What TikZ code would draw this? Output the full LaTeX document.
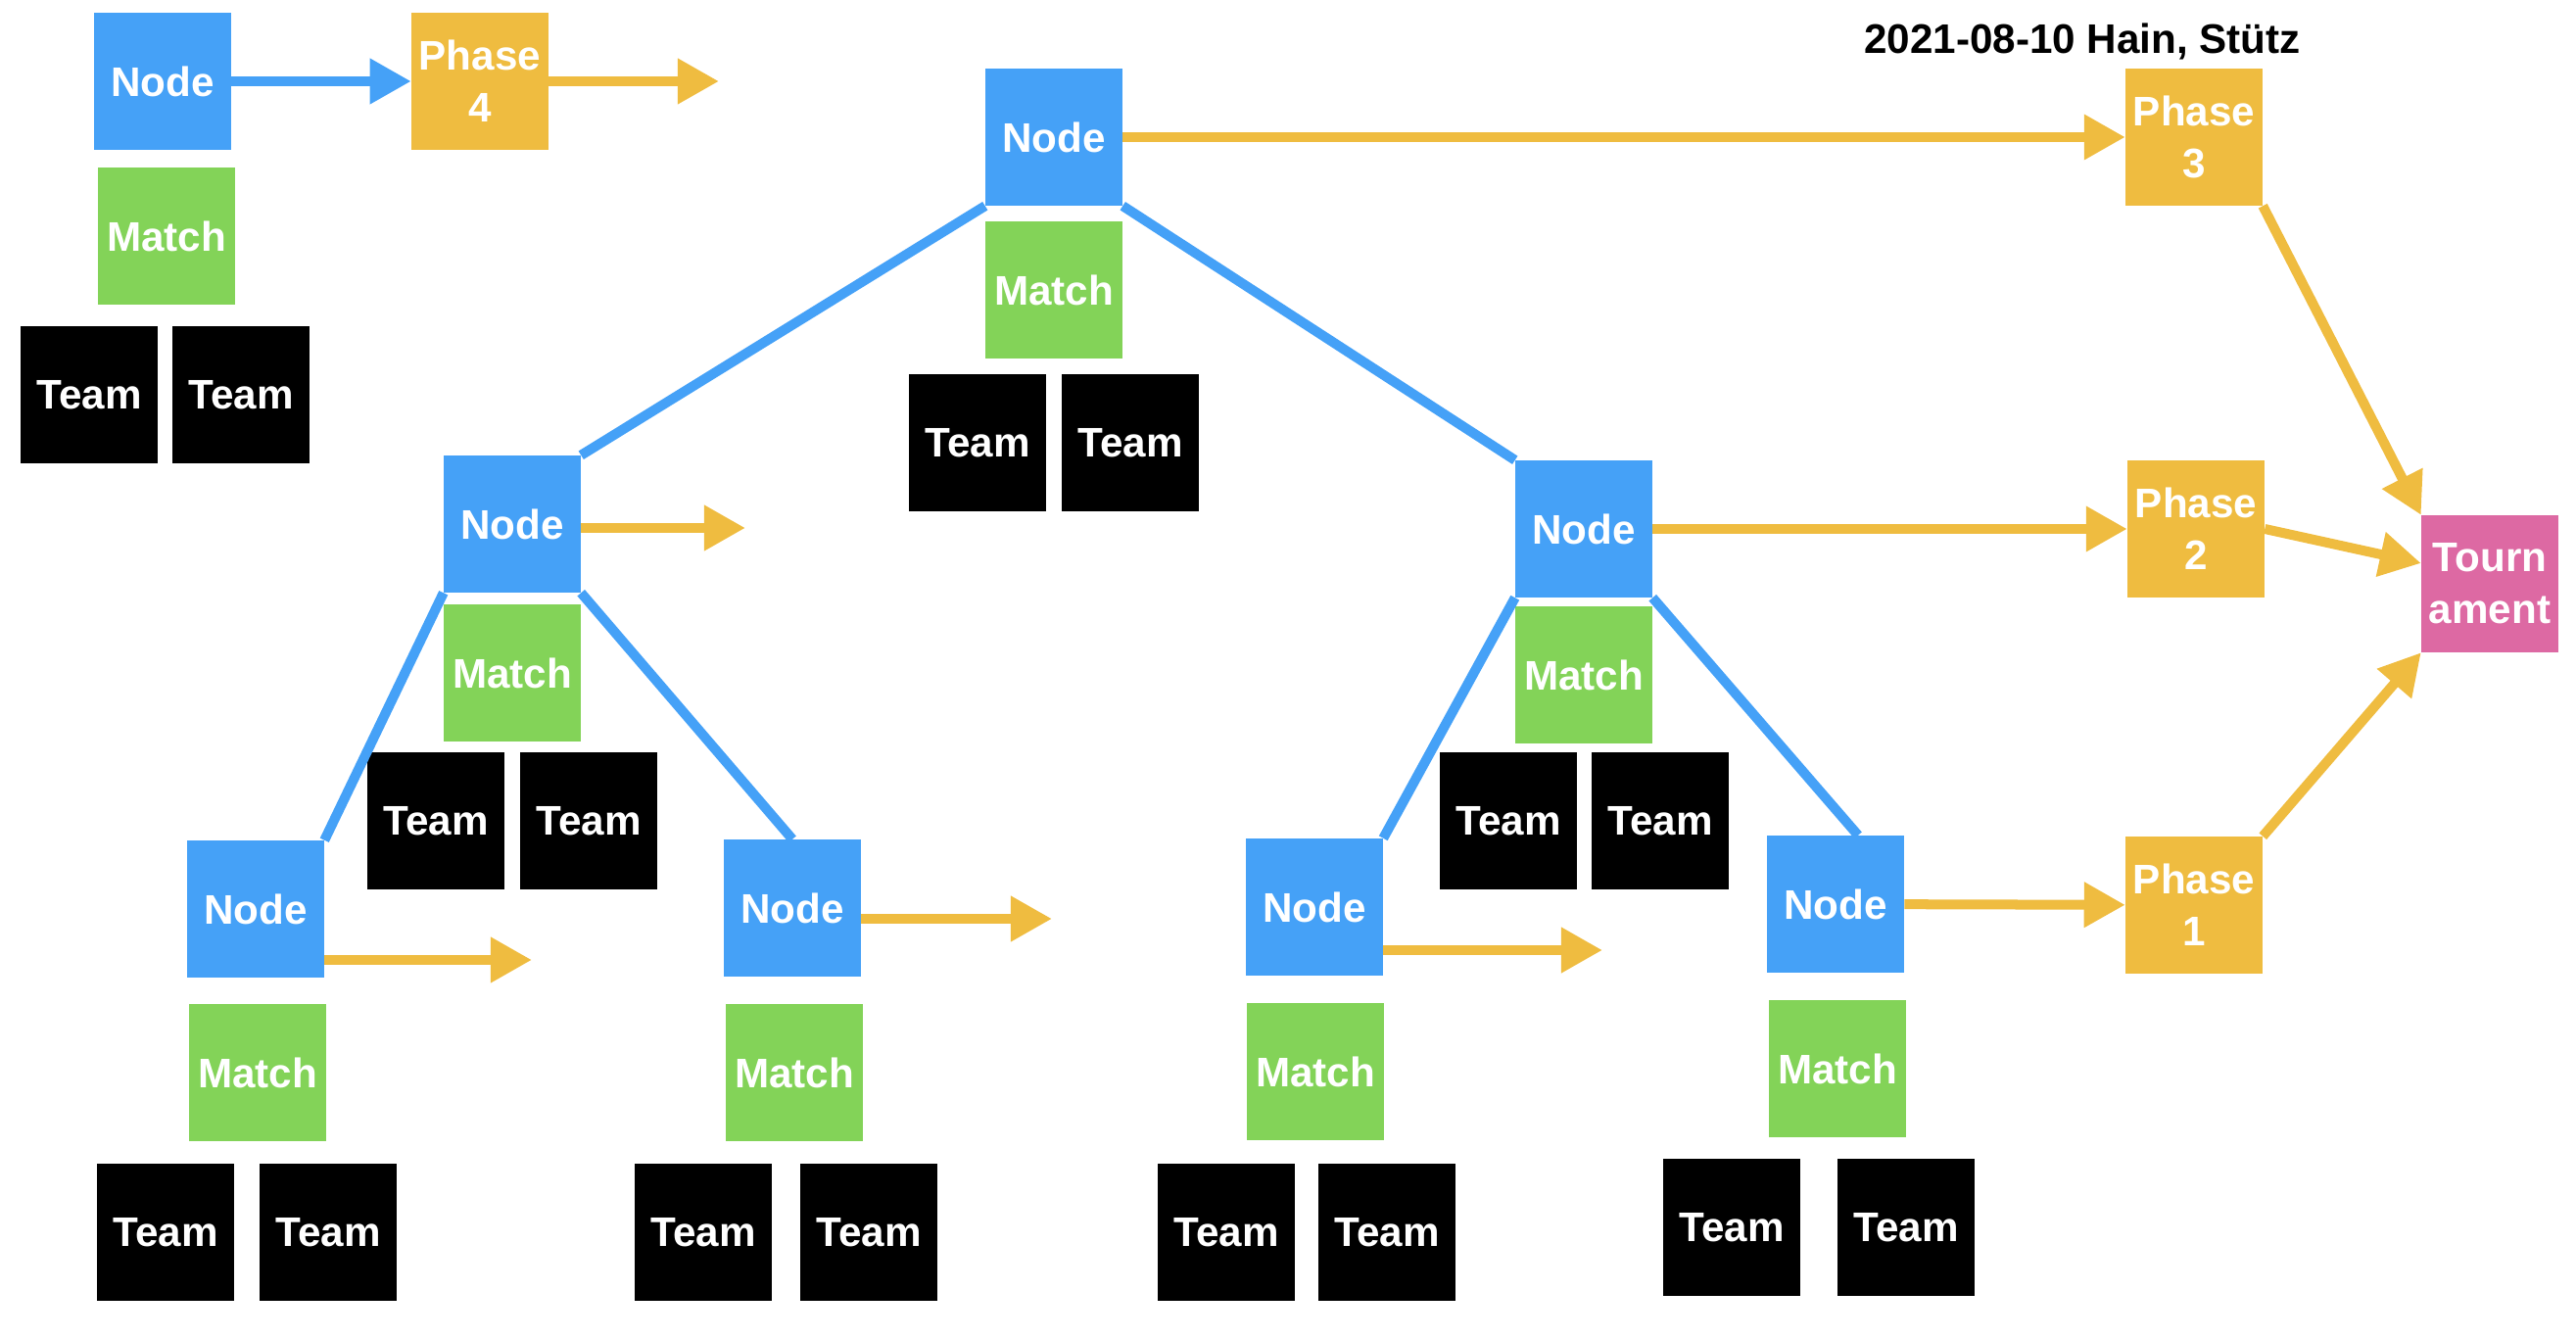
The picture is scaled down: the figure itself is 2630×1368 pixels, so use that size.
\documentclass[tikz,border=0pt]{standalone}
\usepackage{fontspec}
\setmainfont{Liberation Sans}
\usetikzlibrary{arrows.meta}

\definecolor{nodeblue}{RGB}{69,161,247}
\definecolor{matchgreen}{RGB}{131,211,88}
\definecolor{phaseorange}{RGB}{239,188,64}
\definecolor{tourpink}{RGB}{221,105,163}

\begin{document}
\begin{tikzpicture}[x=0.01cm, y=-0.01cm,
    box/.style={minimum width=1.39cm, minimum height=1.39cm, inner sep=0pt, text=white, align=center, font=\fontsize{12}{15}\selectfont\bfseries},
    nodebox/.style={box, fill=nodeblue},
    matchbox/.style={box, fill=matchgreen},
    teambox/.style={box, fill=black},
    phasebox/.style={box, fill=phaseorange},
    tourbox/.style={box, fill=tourpink},
    link/.style={nodeblue, line width=0.1cm},
    flow/.style={phaseorange, line width=0.1cm, -{Triangle[length=0.42cm, width=0.44cm]}}]
            \useasboundingbox (0,0) rectangle (2630,1368);
            % key
            \node [nodebox] (KeyNode) at (166,83) {Node};
            \node [phasebox] (KeyPhase) at (490,83) {Phase\\4};
            \node [matchbox] (KeyMatch) at (170,241) {Match};
            \node [teambox] (KeyTeamA) at (91,403) {Team};
            \node [teambox] (KeyTeamB) at (246,403) {Team};
            \coordinate (KeyOut) at (734,83);
            \node [font=\fontsize{12}{15}\selectfont\bfseries] (Title) at (2126,42) {2021-08-10 Hain, Stütz};
            % root
            \node [nodebox] (Root) at (1076,140) {Node};
            \node [matchbox] (RootMatch) at (1076,296) {Match};
            \node [teambox] (RootTeamA) at (998,452) {Team};
            \node [teambox] (RootTeamB) at (1154,452) {Team};
            % left half
            \node [nodebox] (Left) at (523,535) {Node};
            \node [matchbox] (LeftMatch) at (523,687) {Match};
            \node [teambox] (LeftTeamA) at (445,838) {Team};
            \node [teambox] (LeftTeamB) at (601,838) {Team};
            \coordinate (LeftOut) at (761,539);
            \node [nodebox] (LL) at (261,928) {Node};
            \node [matchbox] (LLMatch) at (263,1095) {Match};
            \node [teambox] (LLTeamA) at (169,1258) {Team};
            \node [teambox] (LLTeamB) at (335,1258) {Team};
            \coordinate (LLOut) at (543,980);
            \node [nodebox] (LR) at (809,927) {Node};
            \node [matchbox] (LRMatch) at (811,1095) {Match};
            \node [teambox] (LRTeamA) at (718,1258) {Team};
            \node [teambox] (LRTeamB) at (887,1258) {Team};
            \coordinate (LROut) at (1074,938);
            % right half
            \node [nodebox] (Right) at (1617,540) {Node};
            \node [matchbox] (RightMatch) at (1617,689) {Match};
            \node [teambox] (RightTeamA) at (1540,838) {Team};
            \node [teambox] (RightTeamB) at (1695,838) {Team};
            \node [nodebox] (RL) at (1342,926) {Node};
            \node [matchbox] (RLMatch) at (1343,1094) {Match};
            \node [teambox] (RLTeamA) at (1252,1258) {Team};
            \node [teambox] (RLTeamB) at (1416,1258) {Team};
            \coordinate (RLOut) at (1636,970);
            \node [nodebox] (RR) at (1874,923) {Node};
            \node [matchbox] (RRMatch) at (1876,1091) {Match};
            \node [teambox] (RRTeamA) at (1768,1253) {Team};
            \node [teambox] (RRTeamB) at (1946,1253) {Team};
            % phases
            \node [phasebox] (PhaseThree) at (2240,140) {Phase\\3};
            \node [phasebox] (PhaseTwo) at (2242,540) {Phase\\2};
            \node [phasebox] (PhaseOne) at (2240,924) {Phase\\1};
            \node [tourbox] (Tournament) at (2542,596) {Tourn\\ament};
            % tree
            \path [link] (Root.south west) edge (Left.north east);
            \path [link] (Root.south east) edge (Right.north west);
            \path [link] (Left.south west) edge (LL.north east);
            \path [link] (Left.south east) edge (LR.north);
            \path [link] (Right.south west) edge (RL.north east);
            \path [link] (Right.south east) edge ([xshift=0.23cm]RR.north);
            % arrows
            \path [flow, nodeblue] (KeyNode) edge (KeyPhase);
            \path [flow] (KeyPhase) edge (KeyOut);
            \path [flow] (Root) edge (PhaseThree);
            \path [flow] (Left.east |- LeftOut) edge (LeftOut);
            \path [flow] (LL.east |- LLOut) edge (LLOut);
            \path [flow] (LR.east |- LROut) edge (LROut);
            \path [flow] (Right) edge (PhaseTwo);
            \path [flow] (RL.east |- RLOut) edge (RLOut);
            \path [flow] (RR) edge (PhaseOne);
            \path [flow] (PhaseThree.south east) edge (Tournament.north west);
            \path [flow] (PhaseTwo.east) edge ([yshift=0.21cm]Tournament.west);
            \path [flow] (PhaseOne.north east) edge (Tournament.south west);
        \end{tikzpicture}
\end{document}
